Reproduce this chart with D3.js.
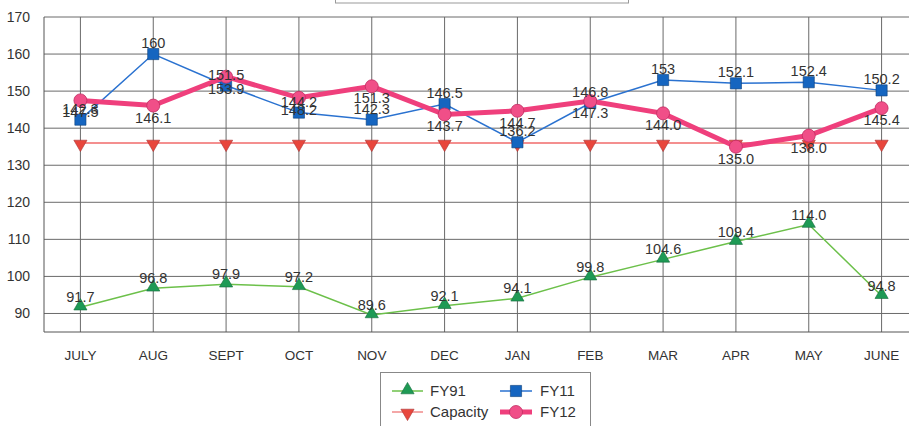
<!DOCTYPE html>
<html>
<head>
<meta charset="utf-8">
<script src="https://cdn.jsdelivr.net/npm/d3@7"></script>
<style>
body { margin: 0; background: #fff; }
svg { display: block; font-family: "Liberation Sans", Arial, sans-serif; }
</style>
</head>
<body>
<svg id="chart"></svg>
<script>
const width = 909;
const height = 426;

const months = ["JULY", "AUG", "SEPT", "OCT", "NOV", "DEC", "JAN", "FEB", "MAR", "APR", "MAY", "JUNE"];
const fy91 = [91.7, 96.8, 97.9, 97.2, 89.6, 92.1, 94.1, 99.8, 104.6, 109.4, 114.0, 94.8];
const capacity = [136, 136, 136, 136, 136, 136, 136, 136, 136, 136, 136, 136];
const fy11 = [142.3, 160, 151.5, 144.2, 142.3, 146.5, 136.2, 146.8, 153, 152.1, 152.4, 150.2];
const fy12 = [147.5, 146.1, 153.9, 148.2, 151.3, 143.7, 144.7, 147.3, 144.0, 135.0, 138.0, 145.4];
const fy11Labels = ["142.3", "160", "151.5", "144.2", "142.3", "146.5", "136.2", "146.8", "153", "152.1", "152.4", "150.2"];
const yTicks = [90, 100, 110, 120, 130, 140, 150, 160, 170];

const svg = d3.select("#chart")
    .attr("width", width)
    .attr("height", height);

const margin = { left: 44, top: 17, right: -9, bottom: 94 };

const x = d3.scaleBand()
    .domain(months)
    .range([margin.left, width - margin.right]);

const y = d3.scaleLinear()
    .domain([85, 170])
    .range([height - margin.bottom, margin.top]);

const cx = d => x(d) + x.bandwidth() / 2;

// cut-off title box at the top
svg.append("rect")
    .attr("x", 335.5)
    .attr("y", -20)
    .attr("width", 293)
    .attr("height", 23)
    .attr("fill", "none")
    .attr("stroke", "#999")
    .attr("stroke-width", 1);

// grid
svg.append("g")
    .selectAll("line")
    .data(yTicks)
    .join("line")
    .attr("x1", margin.left)
    .attr("x2", width)
    .attr("y1", d => y(d))
    .attr("y2", d => y(d))
    .attr("stroke", "#6a6a6a")
    .attr("stroke-width", 1);

svg.append("g")
    .selectAll("line")
    .data(months)
    .join("line")
    .attr("x1", d => cx(d))
    .attr("x2", d => cx(d))
    .attr("y1", y(170))
    .attr("y2", y(85))
    .attr("stroke", "#6a6a6a")
    .attr("stroke-width", 1);

// frame
svg.append("line")
    .attr("x1", margin.left).attr("x2", margin.left)
    .attr("y1", y(170)).attr("y2", y(85))
    .attr("stroke", "#555");
svg.append("line")
    .attr("x1", margin.left).attr("x2", width)
    .attr("y1", y(85)).attr("y2", y(85))
    .attr("stroke", "#555");

// axes
const yAxis = svg.append("g")
    .attr("transform", `translate(${margin.left},0)`)
    .call(d3.axisLeft(y).tickValues(yTicks).tickSize(0).tickPadding(14));
yAxis.select(".domain").remove();
yAxis.selectAll("text")
    .attr("font-size", 14)
    .attr("font-family", "Liberation Sans, Arial, sans-serif")
    .attr("fill", "#333");

const xAxis = svg.append("g")
    .attr("transform", `translate(0,${y(85)})`)
    .call(d3.axisBottom(x).tickSize(0).tickPadding(18));
xAxis.select(".domain").remove();
xAxis.selectAll("text")
    .attr("font-size", 13.5)
    .attr("font-family", "Liberation Sans, Arial, sans-serif")
    .attr("fill", "#333");

const line = d3.line()
    .x((d, i) => cx(months[i]))
    .y(d => y(d));

const triUp = d3.symbol().type(d3.symbolTriangle).size(75);
const triDown = d3.symbol().type(d3.symbolTriangle).size(75);
const square = d3.symbol().type(d3.symbolSquare).size(125);

// capacity
svg.append("path")
    .datum(capacity)
    .attr("d", line)
    .attr("fill", "none")
    .attr("stroke", "#f06a6a")
    .attr("stroke-width", 1.5);
svg.append("g")
    .selectAll("path")
    .data(capacity)
    .join("path")
    .attr("d", triDown)
    .attr("transform", (d, i) => `translate(${cx(months[i])},${y(d) + 1}) rotate(180)`)
    .attr("fill", "#e8463c")
    .attr("stroke", "#a33")
    .attr("stroke-width", 0.6);

// FY91
svg.append("path")
    .datum(fy91)
    .attr("d", line)
    .attr("fill", "none")
    .attr("stroke", "#6cc04a")
    .attr("stroke-width", 1.5);
svg.append("g")
    .selectAll("path")
    .data(fy91)
    .join("path")
    .attr("d", triUp)
    .attr("transform", (d, i) => `translate(${cx(months[i])},${y(d) - 1})`)
    .attr("fill", "#1e9a55")
    .attr("stroke", "#136b3a")
    .attr("stroke-width", 0.6);

// FY11
svg.append("path")
    .datum(fy11)
    .attr("d", line)
    .attr("fill", "none")
    .attr("stroke", "#2a72d0")
    .attr("stroke-width", 1.5);
svg.append("g")
    .selectAll("path")
    .data(fy11)
    .join("path")
    .attr("d", square)
    .attr("transform", (d, i) => `translate(${cx(months[i])},${y(d)})`)
    .attr("fill", "#1565c0")
    .attr("stroke", "#0d3f7a")
    .attr("stroke-width", 0.6);

// FY12
svg.append("path")
    .datum(fy12)
    .attr("d", line)
    .attr("fill", "none")
    .attr("stroke", "#ef3f7c")
    .attr("stroke-width", 5);
svg.append("g")
    .selectAll("circle")
    .data(fy12)
    .join("circle")
    .attr("cx", (d, i) => cx(months[i]))
    .attr("cy", d => y(d))
    .attr("r", 6.5)
    .attr("fill", "#f04f88")
    .attr("stroke", "#c02d62")
    .attr("stroke-width", 0.8);

// data labels
const labels = svg.append("g")
    .attr("font-size", 14.5)
    .attr("fill", "#333")
    .attr("text-anchor", "middle");

labels.selectAll(".l91")
    .data(fy91)
    .join("text")
    .attr("class", "l91")
    .attr("x", (d, i) => cx(months[i]))
    .attr("y", d => y(d) - 5)
    .text(d => d.toFixed(1));

labels.selectAll(".l11")
    .data(fy11)
    .join("text")
    .attr("class", "l11")
    .attr("x", (d, i) => cx(months[i]))
    .attr("y", d => y(d) - 6)
    .text((d, i) => fy11Labels[i]);

labels.selectAll(".l12")
    .data(fy12)
    .join("text")
    .attr("class", "l12")
    .attr("x", (d, i) => cx(months[i]))
    .attr("y", d => y(d) + 17)
    .text(d => d.toFixed(1));

// legend
const legend = svg.append("g");
legend.append("rect")
    .attr("x", 380.5)
    .attr("y", 372.5)
    .attr("width", 210)
    .attr("height", 70)
    .attr("fill", "#fff")
    .attr("stroke", "#888");

const legendItems = [
    { name: "FY91", col: 0, row: 0 },
    { name: "Capacity", col: 0, row: 1 },
    { name: "FY11", col: 1, row: 0 },
    { name: "FY12", col: 1, row: 1 }
];

legendItems.forEach(item => {
    const lx = 392 + item.col * 110;
    const ly = 391 + item.row * 21;
    const g = legend.append("g").attr("transform", `translate(${lx},${ly})`);
    if (item.name === "FY91") {
        g.append("line").attr("x1", 0).attr("x2", 31).attr("stroke", "#6cc04a").attr("stroke-width", 1.5);
        g.append("path").attr("d", triUp).attr("transform", "translate(15.5,-1)")
            .attr("fill", "#1e9a55").attr("stroke", "#136b3a").attr("stroke-width", 0.6);
    } else if (item.name === "Capacity") {
        g.append("line").attr("x1", 0).attr("x2", 31).attr("stroke", "#f08a8a").attr("stroke-width", 1.5);
        g.append("path").attr("d", triDown).attr("transform", "translate(15.5,1) rotate(180)")
            .attr("fill", "#e8463c").attr("stroke", "#a33").attr("stroke-width", 0.6);
    } else if (item.name === "FY11") {
        g.append("line").attr("x1", -2).attr("x2", 30).attr("stroke", "#2a72d0").attr("stroke-width", 1.5);
        g.append("path").attr("d", square).attr("transform", "translate(14,0)")
            .attr("fill", "#1565c0").attr("stroke", "#0d3f7a").attr("stroke-width", 0.6);
    } else {
        g.append("line").attr("x1", -2).attr("x2", 30).attr("stroke", "#ef3f7c").attr("stroke-width", 5);
        g.append("circle").attr("cx", 14).attr("r", 6.5)
            .attr("fill", "#f04f88").attr("stroke", "#c02d62").attr("stroke-width", 0.8);
    }
    g.append("text")
        .attr("x", 38)
        .attr("y", 5)
        .attr("font-size", 15)
        .attr("fill", "#333")
        .text(item.name);
});
</script>
</body>
</html>
